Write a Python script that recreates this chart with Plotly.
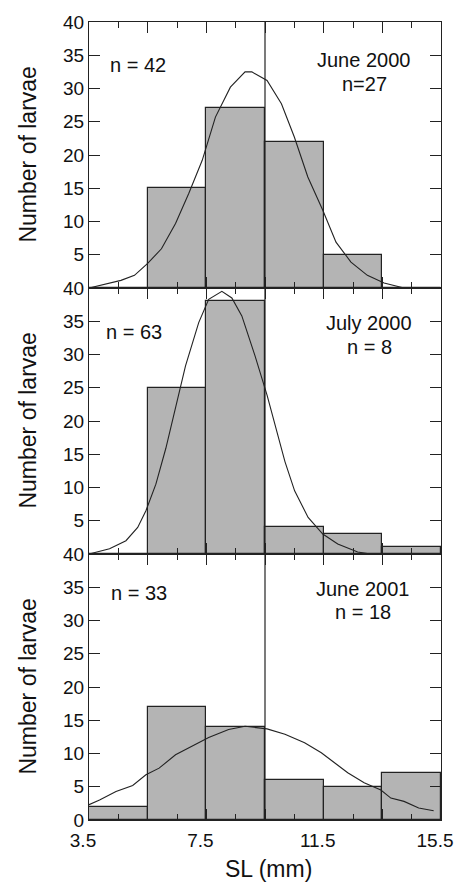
import plotly.graph_objects as go
from plotly.subplots import make_subplots

# ---------------- data ----------------
bin_centers = [4.5, 6.5, 8.5, 10.5, 12.5, 14.5]   # SL bins (mm), width 2
counts_jun2000 = [0, 15, 27, 22, 5, 0]
counts_jul2000 = [0, 25, 38, 4, 3, 1]
counts_jun2001 = [2, 17, 14, 6, 5, 7]

curve_jun2000_x = [3.5, 4.59, 5.05, 5.5, 5.97, 6.45, 6.9, 7.36, 7.81, 8.32, 8.82, 9.05,
                   9.57, 10.06, 10.5, 10.96, 11.47, 11.92, 12.43, 12.99, 13.56, 14.24]
curve_jun2000_y = [0, 1.15, 1.9, 3.7, 5.9, 9.7, 14.2, 19.2, 25.7, 30.2, 32.5, 32.5,
                   31.2, 27.7, 22.7, 16.7, 11.7, 6.9, 3.9, 1.9, 0.75, 0]

curve_jul2000_x = [3.5, 4.2, 4.76, 5.16, 5.44, 5.78, 6.12, 6.45, 6.79, 7.24, 7.58, 8.03,
                   8.37, 8.71, 9.16, 9.57, 9.84, 10.18, 10.51, 10.97, 11.47, 11.98, 12.66, 13.1]
curve_jul2000_y = [0, 0.8, 2.0, 4.0, 6.5, 10.5, 15.9, 21.9, 28.3, 34.8, 38.3, 39.5,
                   38.5, 35.8, 29.8, 23.9, 19.4, 13.9, 9.5, 5.5, 3.0, 1.5, 0.3, 0]

curve_jun2001_x = [3.5, 3.86, 4.42, 4.99, 5.44, 5.89, 6.45, 7.02, 7.58, 8.26, 8.82, 9.57,
                   10.18, 10.85, 11.42, 11.87, 12.32, 12.88, 13.45, 13.79, 14.24, 14.74, 15.25]
curve_jun2001_y = [2.3, 3.0, 4.3, 5.2, 6.8, 7.8, 9.8, 11.1, 12.4, 13.6, 14.1, 13.7,
                   12.9, 11.6, 10.1, 8.6, 7.1, 5.6, 4.5, 3.3, 2.8, 1.8, 1.4]

panel_labels = ["June 2000", "July 2000", "June 2001"]
n_left = ["n = 42", "n = 63", "n = 33"]
n_right = ["n=27", "n = 8", "n = 18"]

x_major_ticks = [3.5, 5.5, 7.5, 9.5, 11.5, 13.5, 15.5]
x_tick_text = ["3.5", "", "7.5", "", "11.5", "", "15.5"]
x_minor_ticks = [4.5, 6.5, 8.5, 10.5, 12.5, 14.5]
y_ticks_upper = [5, 10, 15, 20, 25, 30, 35, 40]
y_ticks_bottom = [0, 5, 10, 15, 20, 25, 30, 35, 40]
split_x = 9.5

# ---------------- figure ----------------
FONT = "Liberation Sans, Arial, Helvetica, sans-serif"
LINE = "#222222"
FILL = "#b4b4b4"

fig = make_subplots(rows=3, cols=1, vertical_spacing=0)

all_counts = [counts_jun2000, counts_jul2000, counts_jun2001]
all_cx = [curve_jun2000_x, curve_jul2000_x, curve_jun2001_x]
all_cy = [curve_jun2000_y, curve_jul2000_y, curve_jun2001_y]

for i in range(3):
    r = i + 1
    fig.add_trace(go.Bar(x=bin_centers, y=all_counts[i], width=2,
                         marker=dict(color=FILL, line=dict(color=LINE, width=1.2)),
                         showlegend=False), row=r, col=1)
    fig.add_trace(go.Scatter(x=all_cx[i], y=all_cy[i], mode="lines",
                             line=dict(color=LINE, width=1.1),
                             showlegend=False), row=r, col=1)

# annotation positions (data coords) per panel
left_pos = [(5.16, 33.5), (5.05, 33.4), (5.21, 34.2)]
label_pos = [(12.85, 34.3), (13.05, 34.7), (12.83, 34.8)]
nright_pos = [(12.9, 30.7), (13.05, 31.2), (12.85, 31.3)]

for i in range(3):
    xr = "x" if i == 0 else f"x{i+1}"
    yr = "y" if i == 0 else f"y{i+1}"
    for txt, (ax, ay) in [(n_left[i], left_pos[i]), (panel_labels[i], label_pos[i]),
                          (n_right[i], nright_pos[i])]:
        fig.add_annotation(x=ax, y=ay, xref=xr, yref=yr, text=txt, showarrow=False,
                           font=dict(family=FONT, size=20, color="#111"),
                           xanchor="center", yanchor="middle")

# y-axis titles (one per panel)
for i in range(3):
    yc = 1 - (i + 0.5) / 3
    fig.add_annotation(x=-0.1746, y=yc, xref="paper", yref="paper",
                       text="Number of larvae", textangle=-90, showarrow=False,
                       font=dict(family=FONT, size=23, color="#111"),
                       xanchor="center", yanchor="middle")

# x-axis title
fig.add_annotation(x=0.51, y=-0.061, xref="paper", yref="paper", text="SL (mm)",
                   showarrow=False, font=dict(family=FONT, size=23, color="#111"),
                   xanchor="center", yanchor="middle")

# vertical divider line
fig.add_shape(type="line", x0=split_x, x1=split_x, y0=0, y1=1, xref="x", yref="paper",
              line=dict(color=LINE, width=1.2))

for i in range(3):
    r = i + 1
    fig.update_xaxes(row=r, col=1, range=[3.5, 15.5], showline=True, linecolor=LINE,
                     linewidth=1.2, mirror="ticks", tickmode="array",
                     tickvals=x_major_ticks,
                     ticktext=x_tick_text if r == 3 else [""] * len(x_major_ticks),
                     ticks="inside", ticklen=11, tickwidth=1.2, tickcolor=LINE,
                     minor=dict(tickmode="array", tickvals=x_minor_ticks, ticks="inside",
                                ticklen=6, tickwidth=1.2, tickcolor=LINE),
                     showgrid=False, zeroline=False,
                     tickfont=dict(family=FONT, size=19, color="#111"),
                     ticklabelshift=-6, ticklabelstandoff=3)
    fig.update_yaxes(row=r, col=1, range=[0, 40], showline=True, linecolor=LINE,
                     linewidth=1.2, mirror="ticks", tickmode="array",
                     tickvals=y_ticks_bottom if r == 3 else y_ticks_upper,
                     ticks="inside", ticklen=11, tickwidth=1.2, tickcolor=LINE,
                     showgrid=False, zeroline=False,
                     tickfont=dict(family=FONT, size=19, color="#111"))

fig.update_layout(width=465, height=882, margin=dict(l=89, r=21, t=18, b=62),
                  plot_bgcolor="white", paper_bgcolor="white", bargap=0)

fig.write_html("out.html")
